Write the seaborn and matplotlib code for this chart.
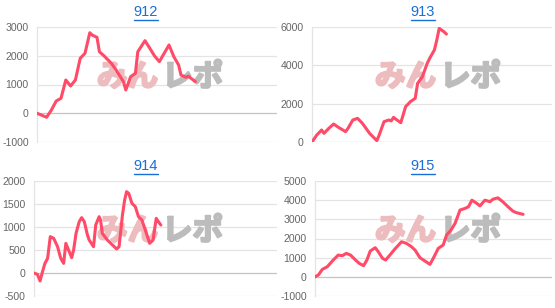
import matplotlib
matplotlib.use("Agg")
import matplotlib.pyplot as plt
import matplotlib.patheffects as pe
import seaborn as sns
import pandas as pd

# ---------------- data ----------------
titles = ["912", "913", "914", "915"]

x912 = [0, 4, 6, 8, 10, 12, 14, 16, 18, 20, 22, 23, 25, 26, 28, 31, 33, 36, 37, 39, 41, 42, 45, 47, 49, 51, 53, 55, 57, 59, 60, 62, 63, 66]
y912 = [0, -140, 113, 425, 520, 1157, 948, 1157, 1910, 2085, 2800, 2720, 2640, 2140, 1990, 1735, 1500, 1100, 810, 1270, 1390, 2140, 2525, 2260, 1990, 1795, 2085, 2375, 1970, 1680, 1330, 1250, 1290, 1100]

x913 = [0, 2, 4, 5, 7, 9, 11, 14, 15, 17, 19, 21, 24, 27, 28, 30, 32, 33, 34, 35, 37, 39, 41, 43, 44, 46, 48, 49, 51, 52, 53, 55, 56]
y913 = [0, 365, 626, 452, 713, 939, 765, 539, 713, 1148, 1235, 974, 452, 70, 365, 1060, 1148, 1100, 1287, 1180, 1008, 1843, 2104, 2278, 3060, 3410, 4100, 4360, 4800, 5320, 5930, 5750, 5630]

x914 = [0, 1.4, 2.5, 3.5, 4.5, 5.6, 6.7, 8.1, 9.7, 11, 12.2, 13.1, 14.5, 15.5, 16.3, 17.3, 18.6, 19.6, 20.7, 22, 22.7, 24.5, 25.4, 26.8, 27.4, 28.1, 30.2, 32.3, 34, 35, 36.4, 37.3, 38.1, 39, 40.3, 41.7, 43, 44.4, 45.8, 47.6, 49, 50.3, 51.2, 52.2]
y914 = [0, -30, -174, 29, 210, 319, 790, 754, 572, 319, 210, 645, 463, 333, 500, 862, 1116, 1203, 1116, 826, 717, 572, 1043, 1224, 1150, 862, 717, 609, 522, 572, 1260, 1587, 1768, 1730, 1515, 1442, 1224, 1152, 935, 645, 717, 1188, 1115, 1043]

x915 = [0, 1.4, 3.1, 5.2, 7.3, 9.8, 11.5, 13.2, 15, 17.1, 18.7, 20.5, 21.9, 23.3, 25.4, 26.7, 28.5, 29.8, 31.6, 33.7, 36.5, 38.6, 40.7, 42.2, 44.3, 46.4, 48.5, 49.9, 52, 54.1, 55.5, 57.4, 59.1, 61.2, 63.3, 64.8, 66.2, 68.3, 69.6, 71.7, 73.8, 75.1, 77.2, 79.3, 81.4, 83.5, 84.9, 87.8]
y915 = [0, 94, 390, 528, 824, 1136, 1101, 1224, 1136, 876, 702, 580, 876, 1345, 1520, 1310, 965, 876, 1136, 1450, 1830, 1745, 1570, 1398, 996, 824, 650, 965, 1485, 1660, 2180, 2440, 2790, 3485, 3570, 3660, 4000, 3830, 3700, 4000, 3920, 4050, 4120, 3910, 3660, 3430, 3350, 3260]

yticks912 = [-1000, 0, 1000, 2000, 3000]
yticks913 = [0, 2000, 4000, 6000]
yticks914 = [-500, 0, 500, 1000, 1500, 2000]
yticks915 = [-1000, 0, 1000, 2000, 3000, 4000, 5000]

xs = [x912, x913, x914, x915]
ys = [y912, y913, y914, y915]
yticks = [yticks912, yticks913, yticks914, yticks915]

# ---------------- style ----------------
sns.set_theme(style="white")
plt.rcParams["font.family"] = ["Liberation Sans", "Noto Sans CJK JP", "DejaVu Sans"]

W, H = 555, 308
fig = plt.figure(figsize=(W / 100, H / 100), dpi=100)

# axes boxes in pixels: left, top, right, bottom
boxes = [(37, 27, 277, 142), (312, 27, 552, 142), (34, 181, 277, 296), (315, 181, 552, 296)]
title_pos = [(146, 12), (423, 12), (146, 166), (423, 166)]
wm_offsets = [(0, 0), (278, 0), (0, 154), (278, 154)]

line_color = "#ff4a68"
grid_color = "#e4e4e4"
base_color = "#c4c4c4"
link_color = "#1a6fd6"
wm_red = "#ecbcbe"
wm_gray = "#bcbcbc"

for i in range(4):
    l, t, r, b = boxes[i]
    ax = fig.add_axes([l / W, 1 - b / H, (r - l) / W, (b - t) / H])
    df = pd.DataFrame({"x": xs[i], "y": ys[i]})
    sns.lineplot(data=df, x="x", y="y", ax=ax, color=line_color, linewidth=2.2,
                 zorder=3, sort=False)
    ax.set_xlim(0, 100)
    yt = yticks[i]
    ax.set_ylim(yt[0], yt[-1])
    ax.set_yticks(yt)
    ax.set_yticklabels([str(v) for v in yt])
    ax.set_xticks([])
    ax.set_xlabel("")
    ax.set_ylabel("")
    for v in yt:
        ax.axhline(v, color=base_color if v == 0 else grid_color, linewidth=0.9, zorder=1)
    for s in ["top", "right", "bottom"]:
        ax.spines[s].set_visible(False)
    ax.spines["left"].set_color(grid_color)
    ax.spines["left"].set_linewidth(0.9)
    ax.tick_params(axis="y", length=5, width=0.8, color=grid_color, pad=1,
                   labelsize=7.6, labelcolor="#666666")
    ax.patch.set_alpha(0)

    # title (link style)
    tx, ty = title_pos[i]
    fig.text(tx / W, 1 - ty / H, titles[i], ha="center", va="center",
             fontsize=10.5, color=link_color, fontfamily="Liberation Sans")
    fig.add_artist(plt.Line2D([(tx - 12) / W, (tx + 12) / W],
                              [1 - (ty + 7.5) / H, 1 - (ty + 7.5) / H],
                              color=link_color, linewidth=1.0))

    # watermark
    ox, oy = wm_offsets[i]
    ax.text((158 + ox) / W, 1 - (77 + oy) / H, "みん", transform=fig.transFigure,
            ha="right", va="center", fontsize=22, fontweight="bold",
            color=wm_red, zorder=2, fontfamily="Noto Sans CJK JP",
            path_effects=[pe.withStroke(linewidth=1.6, foreground=wm_red)])
    ax.text((162 + ox) / W, 1 - (77 + oy) / H, "レポ", transform=fig.transFigure,
            ha="left", va="center", fontsize=22, fontweight="bold",
            color=wm_gray, zorder=2, fontfamily="Noto Sans CJK JP",
            path_effects=[pe.withStroke(linewidth=1.6, foreground=wm_gray)])

fig.savefig("out.png", dpi=100, facecolor="white")
